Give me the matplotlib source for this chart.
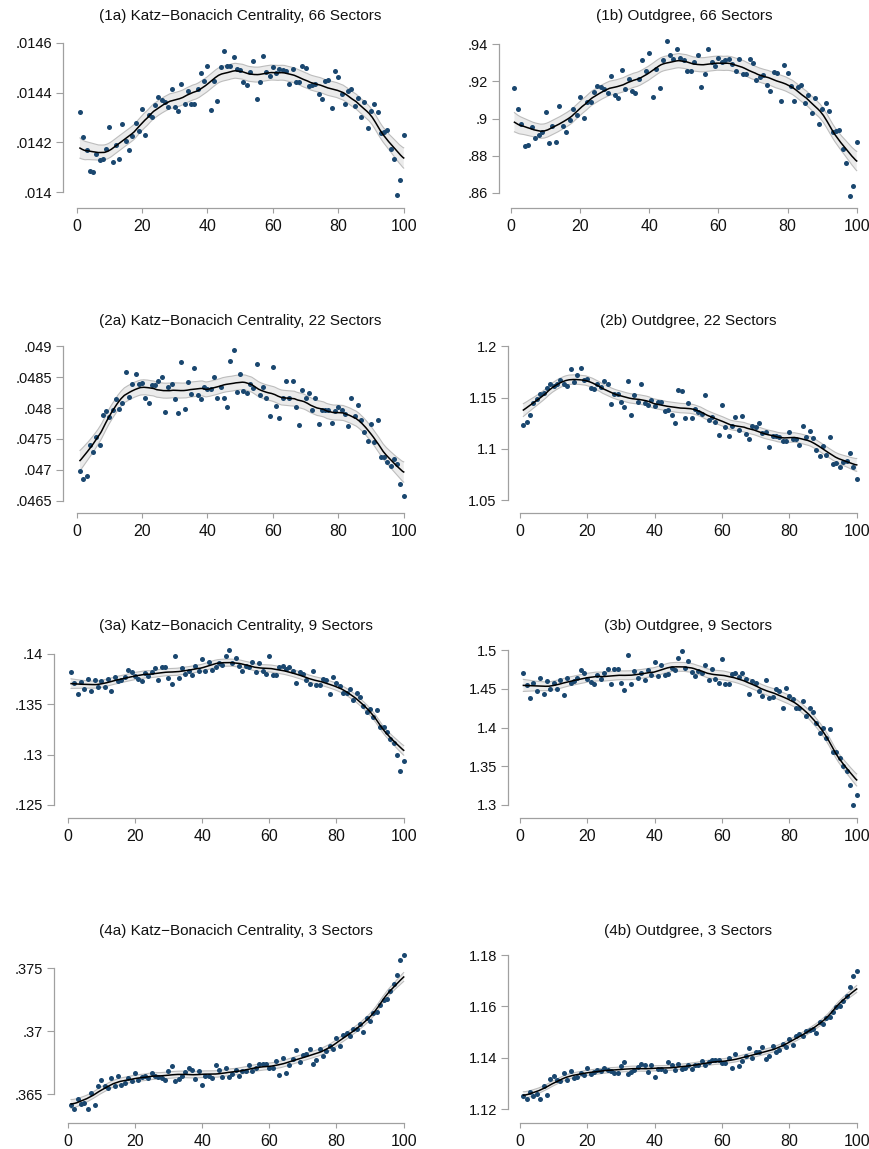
import numpy as np
import matplotlib
matplotlib.use("Agg")
import matplotlib.pyplot as plt

plt.rcParams['font.family'] = ['Liberation Sans', 'DejaVu Sans']

W, H, DPI = 870, 1149, 100

# Percentile of the distribution (x axis)
pct = np.arange(1, 101)

katz_66 = [.014322, .014223, .014168, .014086, .014082, .014155, .014128, .014134, .014172, .014263,
           .014122, .014191, .014135, .014274, .014206, .014168, .014225, .014279, .014245, .014334,
           .014230, .014309, .014303, .014352, .014381, .014370, .014364, .014342, .014414, .014343,
           .014327, .014436, .014355, .014405, .014355, .014355, .014416, .014477, .014448, .014506,
           .014330, .014448, .014367, .014501, .014568, .014506, .014506, .014541, .014494, .014489,
           .014441, .014432, .014481, .014527, .014374, .014441, .014547, .014482, .014465, .014504,
           .014480, .014494, .014492, .014488, .014434, .014494, .014442, .014442, .014505, .014498,
           .014426, .014430, .014436, .014394, .014376, .014448, .014450, .014337, .014486, .014464,
           .014394, .014354, .014408, .014416, .014346, .014380, .014303, .014364, .014258, .014326,
           .014354, .014323, .014239, .014241, .014250, .014174, .014132, .013988, .014048, .014231]

outdeg_66 = [.9166, .9053, .8968, .8853, .8859, .8954, .8897, .8909, .8925, .9037,
             .8870, .8960, .8871, .9066, .8958, .8929, .8990, .9053, .9017, .9118,
             .9001, .9087, .9091, .9143, .9175, .9168, .9161, .9136, .9227, .9128,
             .9111, .9260, .9161, .9213, .9150, .9138, .9215, .9314, .9254, .9351,
             .9118, .9265, .9164, .9314, .9418, .9341, .9323, .9373, .9328, .9315,
             .9258, .9258, .9303, .9342, .9170, .9240, .9377, .9305, .9283, .9326,
             .9303, .9317, .9319, .9296, .9254, .9319, .9238, .9242, .9323, .9301,
             .9206, .9222, .9235, .9182, .9148, .9253, .9245, .9096, .9289, .9244,
             .9177, .9096, .9170, .9182, .9082, .9125, .9031, .9112, .8968, .9049,
             .9082, .9040, .8929, .8933, .8938, .8834, .8760, .8582, .8636, .8871]

katz_22 = [.04698, .046845, .046894, .047396, .047288, .047537, .047402, .047893, .047952, .047861,
           .047963, .048141, .047979, .048077, .048584, .048179, .04839, .048557, .04839, .048401,
           .048163, .048087, .048374, .048374, .048444, .048503, .047942, .048347, .048395, .048152,
           .047915, .048746, .047979, .048422, .048233, .048644, .048212, .048152, .048347, .048303,
           .048303, .048503, .048168, .048347, .048168, .048017, .048768, .048946, .048255, .048557,
           .048271, .048249, .048395, .04833, .048719, .048217, .048341, .048168, .047877, .04866,
           .048039, .047834, .048168, .048444, .048163, .048433, .048023, .04772, .048293, .048168,
           .048244, .047974, .048163, .047736, .047963, .047963, .047963, .047763, .047947, .048017,
           .047969, .047898, .047704, .048168, .047871, .04805, .047807, .047607, .047461, .047747,
           .04745, .047807, .047202, .047213, .047121, .047061, .04718, .047099, .046764, .046581]

outdeg_22 = [1.1237, 1.1260, 1.1328, 1.1451, 1.1484, 1.1532, 1.1542, 1.1591, 1.1630, 1.1617,
             1.1636, 1.1672, 1.1633, 1.1617, 1.1776, 1.1653, 1.1724, 1.1792, 1.1672, 1.1685,
             1.1591, 1.1584, 1.1633, 1.1601, 1.1666, 1.1633, 1.1435, 1.1536, 1.1532, 1.1461,
             1.1412, 1.1662, 1.1334, 1.1526, 1.1455, 1.1636, 1.1451, 1.1429, 1.1474, 1.1419,
             1.1461, 1.1461, 1.1370, 1.1383, 1.1331, 1.1250, 1.1578, 1.1568, 1.1302, 1.1451,
             1.1302, 1.1386, 1.1364, 1.1341, 1.1529, 1.1282, 1.1315, 1.1260, 1.1136, 1.1429,
             1.1217, 1.1123, 1.1221, 1.1315, 1.1185, 1.1321, 1.1149, 1.1101, 1.1221, 1.1217,
             1.1250, 1.1153, 1.1169, 1.1016, 1.1123, 1.1123, 1.1114, 1.1078, 1.1078, 1.1166,
             1.1094, 1.1094, 1.1036, 1.1227, 1.1114, 1.1172, 1.1104, 1.0990, 1.0935, 1.1029,
             1.0945, 1.1117, 1.0854, 1.0864, 1.0828, 1.0877, 1.0886, 1.0958, 1.0821, 1.0708]

katz_9 = [.13818, .13712, .13603, .13722, .13649, .13755, .13629, .13738, .13676, .13728,
          .13669, .13748, .13629, .13772, .13732, .13745, .13772, .13838, .13818, .13778,
          .13748, .13732, .13815, .13785, .13821, .13864, .13745, .13868, .13874, .13758,
          .13705, .13980, .13762, .13864, .13805, .13828, .13791, .13881, .13831, .13947,
          .13828, .13924, .13841, .13874, .13911, .13887, .13980, .14036, .13911, .13960,
          .13881, .13831, .13877, .13874, .13917, .13818, .13907, .13834, .13798, .13980,
          .13791, .13791, .13871, .13877, .13848, .13871, .13831, .13712, .13821, .13798,
          .13738, .13702, .13831, .13692, .13692, .13752, .13742, .13603, .13775, .13709,
          .13685, .13609, .13609, .13656, .13546, .13609, .13573, .13487, .13421, .13457,
          .13378, .13444, .13272, .13275, .13222, .13156, .13116, .12993, .12841, .12934]

outdeg_9 = [1.4699, 1.4548, 1.4381, 1.4570, 1.4467, 1.4639, 1.4437, 1.4600, 1.4492, 1.4574,
            1.4492, 1.4617, 1.4419, 1.4643, 1.4578, 1.4600, 1.4639, 1.4746, 1.4699, 1.4630,
            1.4591, 1.4561, 1.4682, 1.4626, 1.4703, 1.4751, 1.4561, 1.4751, 1.4759, 1.4570,
            1.4488, 1.4931, 1.4561, 1.4729, 1.4634, 1.4699, 1.4613, 1.4746, 1.4673, 1.4849,
            1.4665, 1.4811, 1.4677, 1.4695, 1.4772, 1.4738, 1.4897, 1.4987, 1.4768, 1.4858,
            1.4716, 1.4660, 1.4725, 1.4703, 1.4802, 1.4609, 1.4751, 1.4630, 1.4570, 1.4888,
            1.4566, 1.4566, 1.4695, 1.4703, 1.4652, 1.4703, 1.4622, 1.4432, 1.4604, 1.4574,
            1.4471, 1.4411, 1.4613, 1.4381, 1.4389, 1.4492, 1.4475, 1.4247, 1.4514, 1.4411,
            1.4363, 1.4247, 1.4256, 1.4346, 1.4144, 1.4256, 1.4200, 1.4054, 1.3929, 1.3998,
            1.3865, 1.3981, 1.3684, 1.3688, 1.3611, 1.3508, 1.3443, 1.3262, 1.3000, 1.3129]

katz_3 = [.36415, .36381, .36460, .36426, .36434, .36383, .36508, .36413, .36566, .36611,
          .36566, .36547, .36629, .36563, .36645, .36574, .36587, .36627, .36606, .36669,
          .36614, .36640, .36643, .36629, .36666, .36648, .36640, .36627, .36616, .36685,
          .36725, .36606, .36624, .36643, .36680, .36706, .36696, .36622, .36688, .36577,
          .36643, .36648, .36632, .36733, .36693, .36635, .36706, .36640, .36659, .36693,
          .36648, .36685, .36688, .36735, .36682, .36709, .36743, .36738, .36741, .36706,
          .36706, .36762, .36656, .36791, .36669, .36730, .36780, .36852, .36756, .36815,
          .36820, .36860, .36743, .36770, .36860, .36807, .36844, .36883, .36862, .36944,
          .36883, .36971, .36984, .36966, .37016, .37018, .37055, .36992, .37103, .37079,
          .37148, .37151, .37206, .37246, .37257, .37317, .37373, .37447, .37564, .37608]

outdeg_3 = [1.12518, 1.12388, 1.12686, 1.12518, 1.12596, 1.12414, 1.12894, 1.12557, 1.13166, 1.13309,
            1.13153, 1.13088, 1.13412, 1.13153, 1.13503, 1.13218, 1.13257, 1.13399, 1.13334, 1.13594,
            1.13386, 1.13451, 1.13516, 1.13477, 1.13594, 1.13542, 1.13477, 1.13425, 1.13412, 1.13684,
            1.13840, 1.13386, 1.13438, 1.13529, 1.13658, 1.13775, 1.13736, 1.13438, 1.13710, 1.13270,
            1.13568, 1.13568, 1.13503, 1.13853, 1.13736, 1.13516, 1.13762, 1.13555, 1.13594, 1.13723,
            1.13555, 1.13723, 1.13723, 1.13879, 1.13710, 1.13827, 1.13931, 1.13931, 1.13931, 1.13814,
            1.13814, 1.14008, 1.13606, 1.14138, 1.13671, 1.13892, 1.14073, 1.14384, 1.14008, 1.14229,
            1.14242, 1.14423, 1.13970, 1.14073, 1.14449, 1.14242, 1.14320, 1.14527, 1.14423, 1.14721,
            1.14514, 1.14864, 1.14928, 1.14838, 1.15045, 1.15071, 1.15136, 1.14954, 1.15382, 1.15317,
            1.15551, 1.15590, 1.15784, 1.15978, 1.16030, 1.16225, 1.16419, 1.16756, 1.17196, 1.17365]

titles = ["(1a) Katz\u2212Bonacich Centrality, 66 Sectors", "(1b) Outdgree, 66 Sectors",
          "(2a) Katz\u2212Bonacich Centrality, 22 Sectors", "(2b) Outdgree, 22 Sectors",
          "(3a) Katz\u2212Bonacich Centrality, 9 Sectors", "(3b) Outdgree, 9 Sectors",
          "(4a) Katz\u2212Bonacich Centrality, 3 Sectors", "(4b) Outdgree, 3 Sectors"]
series = [katz_66, outdeg_66, katz_22, outdeg_22, katz_9, outdeg_9, katz_3, outdeg_3]

yticks = [[.014, .0142, .0144, .0146], [.86, .88, .9, .92, .94],
          [.0465, .047, .0475, .048, .0485, .049], [1.05, 1.1, 1.15, 1.2],
          [.125, .13, .135, .14], [1.3, 1.35, 1.4, 1.45, 1.5],
          [.365, .37, .375], [1.12, 1.14, 1.16, 1.18]]
ylabels = [[".014", ".0142", ".0144", ".0146"], [".86", ".88", ".9", ".92", ".94"],
           [".0465", ".047", ".0475", ".048", ".0485", ".049"], ["1.05", "1.1", "1.15", "1.2"],
           [".125", ".13", ".135", ".14"], ["1.3", "1.35", "1.4", "1.45", "1.5"],
           [".365", ".37", ".375"], ["1.12", "1.14", "1.16", "1.18"]]
xticks = [0, 20, 40, 60, 80, 100]

# Panel geometry in pixels: x of 0, x of 100, y of top tick, y of bottom tick,
# x of the y-axis line, y of the x-axis line, y of title centre
geom = [(76.7, 403.7, 42.7, 192.3, 63.3, 208.3, 16),
        (511.0, 856.7, 44.3, 192.7, 498.7, 208.3, 16),
        (76.7, 403.7, 346.3, 500.7, 63.3, 513.3, 321),
        (520.0, 856.7, 346.3, 500.3, 507.7, 513.3, 321),
        (67.7, 403.7, 654.0, 805.0, 54.0, 818.3, 626),
        (520.0, 856.7, 650.0, 805.0, 507.7, 818.3, 626),
        (67.7, 403.7, 968.3, 1094.3, 54.0, 1123.3, 931),
        (520.0, 856.7, 955.0, 1109.3, 507.7, 1123.3, 931)]

DOT = "#1a476f"
AXIS = "#a0a0a0"


def kernel_smooth(x, y, grid, h):
    """Local-mean (Epanechnikov) kernel smoother with pointwise 95% band."""
    def weights(g):
        u = (x - g) / h
        w = np.where(np.abs(u) < 1, 0.75 * (1 - u ** 2), 0.0)
        return w / w.sum()

    L = np.array([weights(g) for g in x])
    resid = y - L @ y
    sigma = np.sqrt((resid ** 2).sum() / (len(x) - np.trace(L)))
    Lg = np.array([weights(g) for g in grid])
    fit = Lg @ y
    se = sigma * np.sqrt((Lg ** 2).sum(axis=1))
    return fit, fit - 1.96 * se, fit + 1.96 * se


fig = plt.figure(figsize=(W / DPI, H / DPI), dpi=DPI)
x = pct.astype(float)
grid = np.linspace(1, 100, 300)

for title, vals, yt, yl, g in zip(titles, series, yticks, ylabels, geom):
    x0, x100, ytop, ybot, yspine, xspine, ttl = g
    y = np.asarray(vals, dtype=float)
    sx = (x100 - x0) / 100.0
    sy = (ybot - ytop) / (yt[-1] - yt[0])
    right_px = x100 + 10
    top_px = ytop - 16
    ax = fig.add_axes([yspine / W, 1 - xspine / H,
                       (right_px - yspine) / W, (xspine - top_px) / H])
    ax.set_xlim((yspine - x0) / sx, 100 + 10 / sx)
    ax.set_ylim(yt[0] - (xspine - ybot) / sy, yt[-1] + 16 / sy)

    fit, lo, hi = kernel_smooth(x, y, grid, 7.5)
    ax.fill_between(grid, lo, hi, facecolor="#ebebeb", edgecolor="none", zorder=1)
    ax.plot(grid, lo, color="#bdbdbd", lw=0.8, zorder=2)
    ax.plot(grid, hi, color="#bdbdbd", lw=0.8, zorder=2)
    ax.scatter(x, y, s=13, color=DOT, linewidths=0, zorder=3, clip_on=False)
    ax.plot(grid, fit, color="black", lw=1.1, zorder=4)

    for side in ("top", "right"):
        ax.spines[side].set_visible(False)
    for side in ("left", "bottom"):
        ax.spines[side].set_color(AXIS)
        ax.spines[side].set_linewidth(0.9)
    ax.spines["left"].set_bounds(yt[0], yt[-1])
    ax.spines["bottom"].set_bounds(0, 100)
    ax.set_yticks(yt)
    ax.set_yticklabels(yl)
    ax.set_xticks(xticks)
    ax.set_xticklabels([str(t) for t in xticks])
    ax.tick_params(axis="y", length=4.8, width=0.8, color=AXIS, pad=3,
                   labelsize=10.5, labelcolor="#111111")
    ax.tick_params(axis="x", length=3.6, width=0.8, color=AXIS, pad=4,
                   labelsize=11.5, labelcolor="#111111")
    ax.patch.set_visible(False)

    fig.text((x0 + x100) / 2 / W, 1 - ttl / H, title, ha="center", va="center",
             fontsize=11, color="#111111")

fig.savefig("out.png", dpi=DPI)
